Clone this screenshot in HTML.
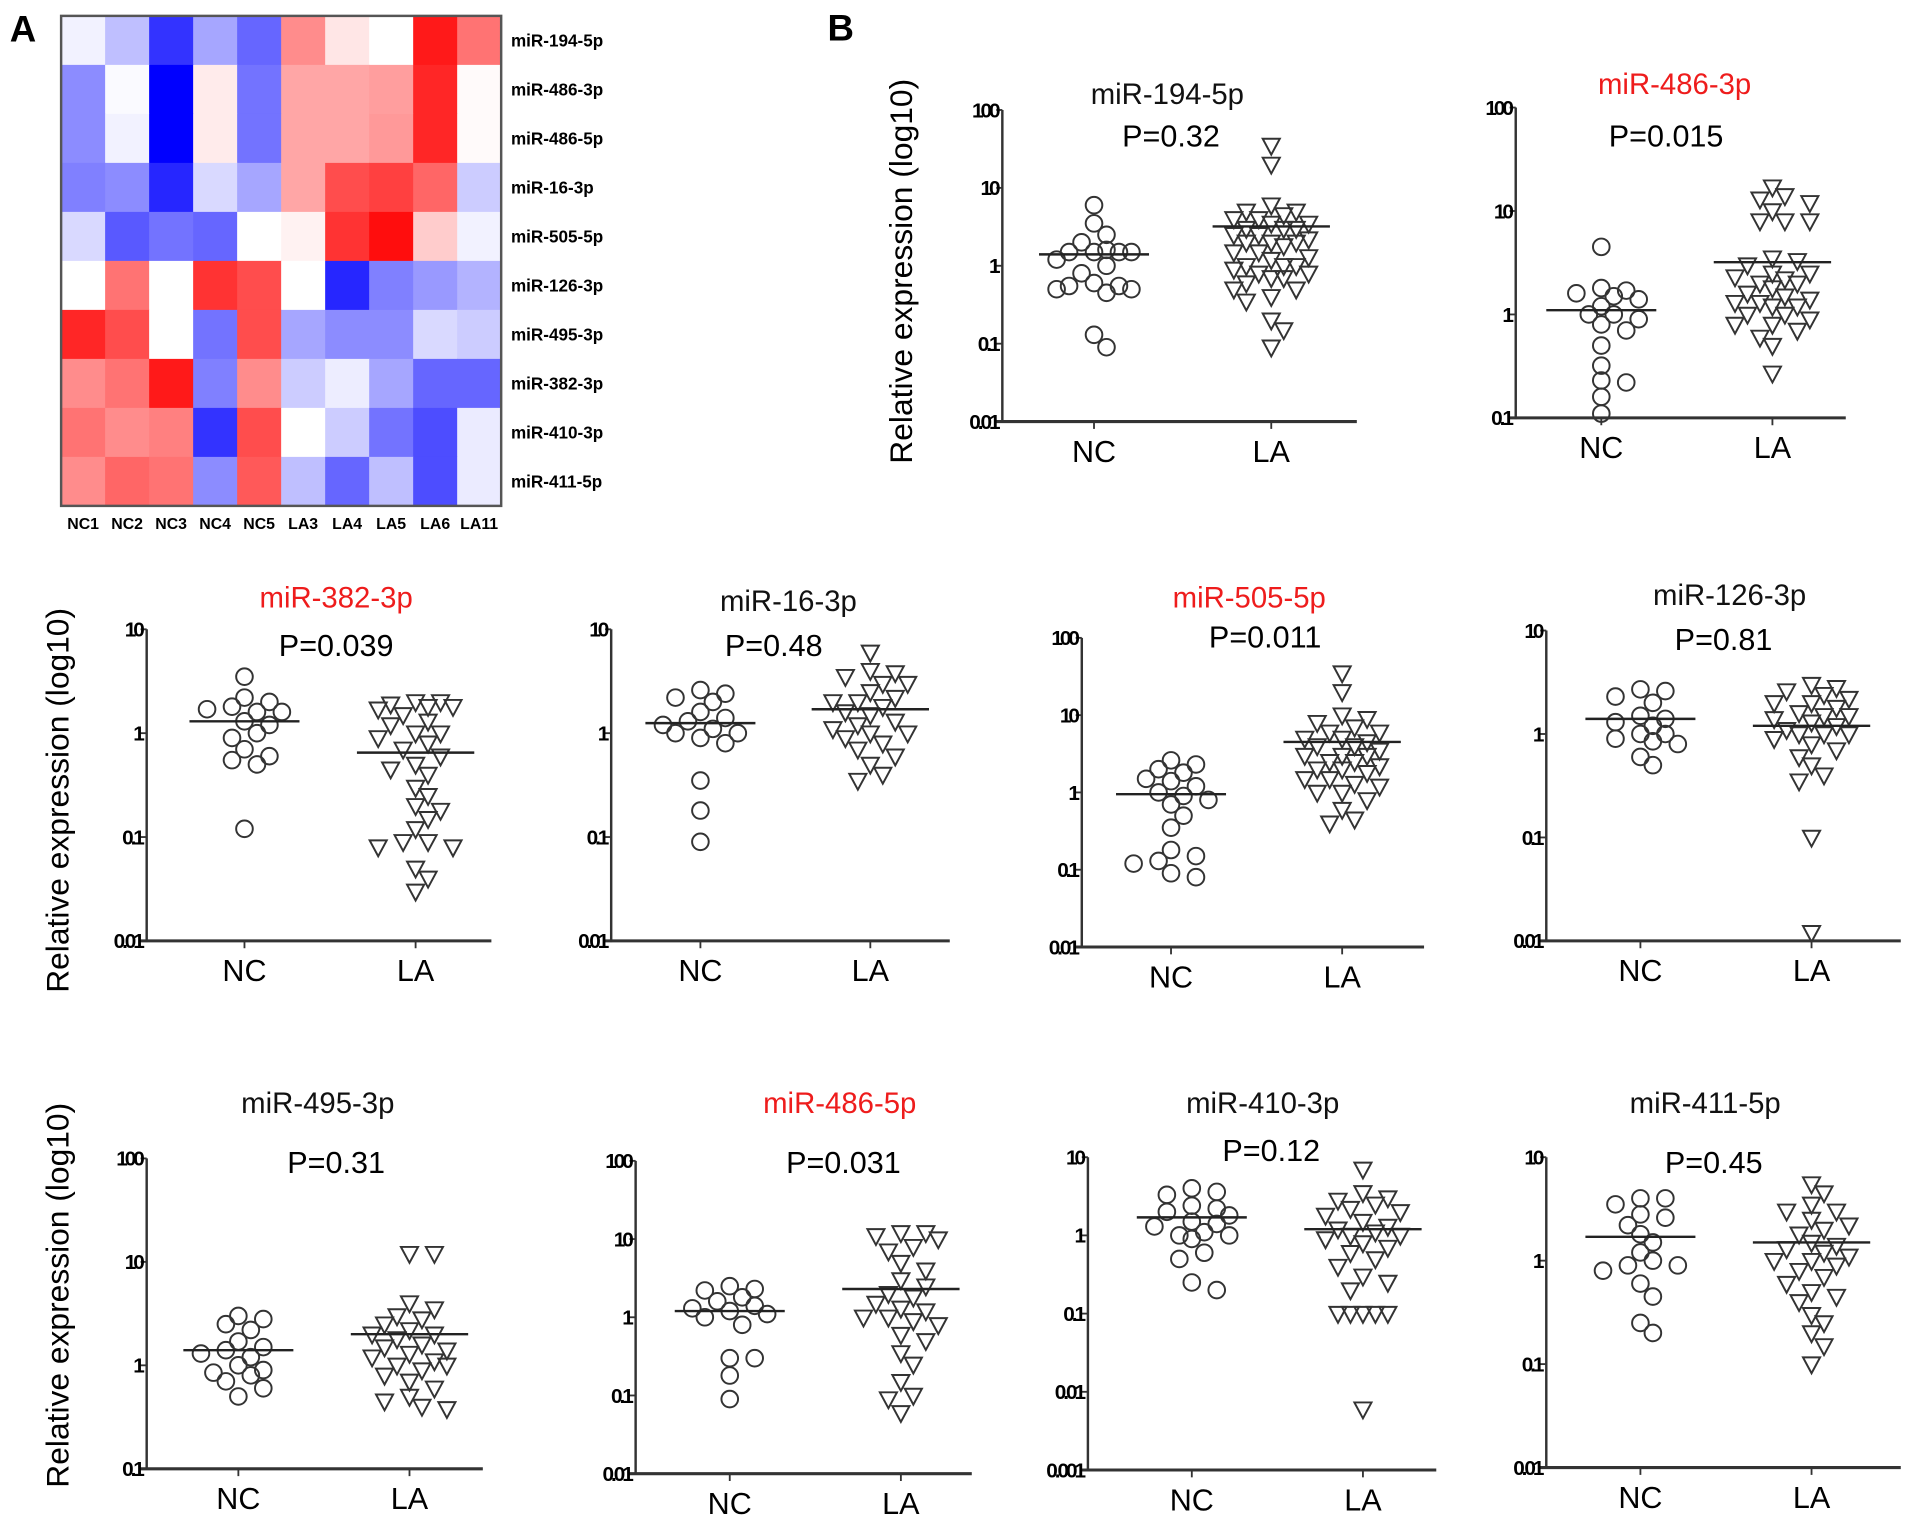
<!DOCTYPE html>
<html><head><meta charset="utf-8"><style>
html,body{margin:0;padding:0;background:#fff;}
svg{display:block;}
text{font-family:"Liberation Sans",Arial,sans-serif;}
</style></head><body>
<svg id="fig" width="1913" height="1525" viewBox="0 0 1565 1248" preserveAspectRatio="none" xmlns="http://www.w3.org/2000/svg">
<text x="8" y="34" font-size="30" font-weight="bold">A</text>
<text x="677" y="33" font-size="30" font-weight="bold">B</text>
<g id="heat"></g>
<g id="plots"></g>
<text transform="translate(746,222) rotate(-90)" text-anchor="middle" font-size="26">Relative expression (log10)</text>
<text transform="translate(56,655) rotate(-90)" text-anchor="middle" font-size="26">Relative expression (log10)</text>
<text transform="translate(56,1060) rotate(-90)" text-anchor="middle" font-size="26">Relative expression (log10)</text>
</svg>
<script>
const NS="http://www.w3.org/2000/svg";
// Heatmap data
const heatCols=["NC1","NC2","NC3","NC4","NC5","LA3","LA4","LA5","LA6","LA11"];
const heatRows=["miR-194-5p","miR-486-3p","miR-486-5p","miR-16-3p","miR-505-5p","miR-126-3p","miR-495-3p","miR-382-3p","miR-410-3p","miR-411-5p"];
const heatVals=[
[-0.05,-0.25,-0.8,-0.35,-0.6,0.45,0.1,0,0.9,0.55],
[-0.45,-0.02,-1,0.08,-0.55,0.35,0.35,0.38,0.85,0.02],
[-0.45,-0.05,-1,0.08,-0.55,0.35,0.35,0.4,0.85,0.02],
[-0.5,-0.45,-0.85,-0.15,-0.35,0.35,0.7,0.75,0.6,-0.2],
[-0.15,-0.65,-0.55,-0.6,0,0.05,0.8,0.95,0.2,-0.05],
[0,0.55,0,0.8,0.7,0,-0.85,-0.5,-0.4,-0.3],
[0.85,0.7,0,-0.55,0.7,-0.35,-0.45,-0.45,-0.15,-0.2],
[0.45,0.55,0.9,-0.5,0.45,-0.2,-0.07,-0.35,-0.6,-0.6],
[0.55,0.45,0.5,-0.8,0.7,0,-0.2,-0.55,-0.7,-0.08],
[0.45,0.6,0.55,-0.45,0.65,-0.25,-0.6,-0.25,-0.7,-0.08]];

// Scatter data
const titles=["miR-194-5p","miR-486-3p","miR-382-3p","miR-16-3p","miR-505-5p","miR-126-3p","miR-495-3p","miR-486-5p","miR-410-3p","miR-411-5p"];
const pvals=["P=0.32","P=0.015","P=0.039","P=0.48","P=0.011","P=0.81","P=0.31","P=0.031","P=0.12","P=0.45"];
const highlighted=[false,true,true,false,true,false,false,true,false,false];
const ncVals=[
[6,3.5,2.5,2,1.6,1.5,1.5,1.5,1.5,1.2,1,0.8,0.6,0.55,0.55,0.5,0.5,0.45,0.13,0.09],
[4.5,1.8,1.7,1.6,1.5,1.4,1.2,1.0,1.0,0.9,0.8,0.7,0.5,0.32,0.23,0.22,0.16,0.11],
[3.5,2.2,2,1.8,1.7,1.6,1.6,1.3,1.2,1,0.9,0.7,0.6,0.55,0.5,0.12],
[2.6,2.4,2.2,2,1.6,1.4,1.3,1.2,1.1,1,1,0.9,0.8,0.35,0.18,0.09],
[2.6,2.3,2,1.8,1.5,1.4,1.2,1,0.9,0.8,0.7,0.5,0.35,0.18,0.15,0.13,0.12,0.09,0.08],
[2.7,2.6,2.3,2,1.5,1.4,1.3,1.2,1,1,0.9,0.85,0.8,0.6,0.5],
[3,2.8,2.5,2.2,1.7,1.5,1.4,1.3,1.2,1.0,0.9,0.85,0.8,0.7,0.6,0.5],
[2.5,2.3,2.2,1.8,1.6,1.4,1.3,1.2,1.1,1,0.8,0.3,0.3,0.18,0.09],
[4,3.6,3.3,2.4,2.2,2,1.8,1.5,1.4,1.3,1.1,1,1,0.9,0.6,0.5,0.25,0.2],
[4,4,3.5,2.8,2.6,2.2,1.8,1.5,1.2,1,0.9,0.9,0.8,0.6,0.45,0.25,0.2]];
const laVals=[
[35,20,6,5,5,4.5,4,4,3.5,3.5,3,3,3,2.5,2.5,2.2,2,2,2,1.8,1.5,1.5,1.3,1.2,1,1,1,0.9,0.8,0.8,0.7,0.7,0.6,0.5,0.5,0.4,0.35,0.2,0.15,0.09],
[17,14,13,12,10,8,8,8,3.5,3.3,3,2.5,2.5,2.3,2.2,2,2,1.8,1.6,1.5,1.4,1.3,1.3,1.2,1.2,1,1,0.9,0.8,0.8,0.7,0.6,0.5,0.27],
[2,2,1.9,1.8,1.8,1.7,1.5,1.3,1.2,1,1,0.9,0.8,0.7,0.6,0.5,0.45,0.4,0.3,0.25,0.2,0.18,0.15,0.12,0.09,0.09,0.08,0.08,0.05,0.04,0.03],
[6,4,3.8,3.5,3,3,2.5,2.2,2,2,1.8,1.6,1.5,1.3,1.2,1.1,1,1,0.9,0.8,0.7,0.6,0.5,0.4,0.35],
[35,20,10,9,8,7,6,6,5,5,4.5,4,4,3.5,3,3,3,2.5,2.5,2.2,2,2,1.8,1.5,1.5,1.3,1.2,1,1,0.8,0.6,0.45,0.4],
[3,2.8,2.6,2.4,2.2,2,2,1.8,1.6,1.5,1.5,1.4,1.3,1.2,1.1,1,1,1,0.9,0.8,0.7,0.6,0.5,0.4,0.35,0.1,0.012],
[12,12,4,3.5,3,2.8,2.5,2.2,2,2,1.8,1.6,1.5,1.4,1.3,1.2,1.1,1,1,0.9,0.8,0.7,0.6,0.5,0.45,0.4,0.38],
[12,12,11,10,8,7,5,4,3,2.5,2,1.8,1.5,1.3,1.2,1,1,0.9,0.8,0.6,0.5,0.35,0.25,0.15,0.1,0.09,0.06],
[7,3.5,3,2.8,2.5,2.2,2,1.8,1.5,1.3,1.2,1.1,1,1,0.9,0.8,0.7,0.6,0.5,0.4,0.3,0.25,0.2,0.1,0.1,0.1,0.1,0.1,0.006],
[5.5,4.5,3.5,3,3,2.5,2.2,2,1.8,1.5,1.4,1.3,1.2,1.1,1,1,0.9,0.8,0.7,0.6,0.5,0.45,0.4,0.3,0.25,0.2,0.15,0.1]];
const ncMeans=[1.4,1.1,1.3,1.25,0.95,1.4,1.4,1.2,1.7,1.7];
const laMeans=[3.2,3.2,0.65,1.7,4.5,1.2,2,2.3,1.2,1.5];
const tickLabels=[
["100","10","1","0.1","0.01"],["100","10","1","0.1"],["10","1","0.1","0.01"],["10","1","0.1","0.01"],
["100","10","1","0.1","0.01"],["10","1","0.1","0.01"],["100","10","1","0.1"],["100","10","1","0.1","0.01"],
["10","1","0.1","0.01","0.001"],["10","1","0.1","0.01"]];

// layout (pixel geometry, not data)
const layout=[
{ax:820,top:90,bot:345,nc:895,la:1040,end:1110,tx:955,ty:85,px:958,py:120},
{ax:1240,top:88,bot:342,nc:1310,la:1450,end:1510,tx:1370,ty:77,px:1363,py:120},
{ax:120,top:515,bot:770,nc:200,la:340,end:402,tx:275,ty:497,px:275,py:537},
{ax:500,top:515,bot:770,nc:573,la:712,end:777,tx:645,ty:500,px:633,py:537},
{ax:885,top:522,bot:775,nc:958,la:1098,end:1165,tx:1022,ty:497,px:1035,py:530},
{ax:1265,top:516,bot:770,nc:1342,la:1482,end:1555,tx:1415,ty:495,px:1410,py:532},
{ax:120,top:948,bot:1202,nc:195,la:335,end:395,tx:260,ty:911,px:275,py:960},
{ax:520,top:950,bot:1206,nc:597,la:737,end:795,tx:687,ty:911,px:690,py:960},
{ax:890,top:947,bot:1203,nc:975,la:1115,end:1175,tx:1033,ty:911,px:1040,py:950},
{ax:1265,top:947,bot:1201,nc:1342,la:1482,end:1555,tx:1395,ty:911,px:1402,py:960}];

function el(tag,attrs,parent){const e=document.createElementNS(NS,tag);for(const k in attrs)e.setAttribute(k,attrs[k]);parent.appendChild(e);return e;}

// heatmap
const heat=document.getElementById('heat');
const hx0=50,hy0=13,cw=36,ch=40.1;
function heatColor(v){if(v>=0){const c=Math.round(255*(1-v));return `rgb(255,${c},${c})`;}const c=Math.round(255*(1+v));return `rgb(${c},${c},255)`;}
heatRows.forEach((r,i)=>{
  heatCols.forEach((c,j)=>{
    const rc=el('rect',{x:hx0+j*cw,y:hy0+i*ch,width:cw+0.5,height:ch+0.5,fill:heatColor(heatVals[i][j])},heat);
    
    
  });
  const t=el('text',{x:418,y:hy0+i*ch+ch/2+5,'font-size':14,'font-weight':'bold'},heat);
  t.textContent=r;
  
  
});
el('rect',{x:hx0,y:hy0,width:cw*10,height:ch*10,fill:'none',stroke:'#555','stroke-width':2},heat);
heatCols.forEach((c,j)=>{
  const t=el('text',{x:hx0+j*cw+cw/2,y:433,'font-size':13,'font-weight':'bold','text-anchor':'middle'},heat);
  t.textContent=c;
  
  
});

// scatter panels
const plots=document.getElementById('plots');
function swarm(vals,cx,ys,d,maxOff){
  const order=vals.map((v,i)=>i).sort((a,b)=>vals[b]-vals[a]);
  const placed=[];const xs=new Array(vals.length);
  const step=d*0.85;
  order.forEach(i=>{
    const y=ys(vals[i]);
    let best=cx,bestScore=1e9;
    for(let k=0;k<40;k++){
      const off=(k%2?1:-1)*Math.ceil(k/2)*step;
      if(Math.abs(off)>maxOff)break;
      const x=cx+off;
      let minD=1e9;placed.forEach(p=>{minD=Math.min(minD,Math.hypot(p[0]-x,p[1]-y));});
      if(minD>=d){best=x;bestScore=-1;break;}
      const sc=-minD;
      if(sc<bestScore){bestScore=sc;best=x;}
    }
    placed.push([best,y]);xs[i]=best;
  });
  return xs;
}
titles.forEach((title,pi)=>{
  const L=layout[pi];const ticks=tickLabels[pi];
  const g=el('g',{},plots);
  
  
  const topExp=Math.log10(parseFloat(ticks[0])),botExp=Math.log10(parseFloat(ticks[ticks.length-1]));
  const ys=v=>L.top+(topExp-Math.log10(v))/(topExp-botExp)*(L.bot-L.top);
  el('line',{x1:L.ax,y1:L.top,x2:L.ax,y2:L.bot+1,stroke:'#333','stroke-width':2},g);
  el('line',{x1:L.ax-6,y1:L.bot,x2:L.end,y2:L.bot,stroke:'#333','stroke-width':2.5},g);
  ticks.forEach(tl=>{
    const y=ys(parseFloat(tl));
    el('line',{x1:L.ax-5,y1:y,x2:L.ax,y2:y,stroke:'#333','stroke-width':1.5},g);
    const t=el('text',{x:L.ax-4,y:y+6,'font-size':17,'font-weight':'bold','text-anchor':'end','letter-spacing':-2.5},g);
    t.textContent=tl;
    
    
  });
  [[L.nc,'NC'],[L.la,'LA']].forEach(([x,lab])=>{
    el('line',{x1:x,y1:L.bot,x2:x,y2:L.bot+6,stroke:'#333','stroke-width':1.5},g);
    const t=el('text',{x:x,y:L.bot+33,'font-size':25,'text-anchor':'middle'},g);
    t.textContent=lab;
    
    
  });
  const tt=el('text',{x:L.tx,y:L.ty,'font-size':24,'text-anchor':'middle',fill:highlighted[pi]?'#ee1c1c':'#111'},g);
  tt.textContent=title;
  
  
  const pt=el('text',{x:L.px,y:L.py,'font-size':25,'text-anchor':'middle'},g);
  pt.textContent=pvals[pi];
  
  
  // NC circles
  const nv=ncVals[pi];const nx=swarm(nv,L.nc,ys,12,38);
  nv.forEach((v,i)=>{
    const c=el('circle',{cx:nx[i],cy:ys(v),r:6.8,fill:'none',stroke:'#333','stroke-width':1.6},g);
    
    
  });
  const lv=laVals[pi];const lx=swarm(lv,L.la,ys,12,40);
  lv.forEach((v,i)=>{
    const x=lx[i],y=ys(v);
    const p=el('polygon',{points:`${x-7},${y-5.5} ${x+7},${y-5.5} ${x},${y+7.5}`,fill:'none',stroke:'#333','stroke-width':1.6},g);
    
    
  });
  const m1=el('line',{x1:L.nc-45,x2:L.nc+45,y1:ys(ncMeans[pi]),y2:ys(ncMeans[pi]),stroke:'#222','stroke-width':2},g);
  
  
  const m2=el('line',{x1:L.la-48,x2:L.la+48,y1:ys(laMeans[pi]),y2:ys(laMeans[pi]),stroke:'#222','stroke-width':2},g);
  
  
});
</script>
</body></html>
